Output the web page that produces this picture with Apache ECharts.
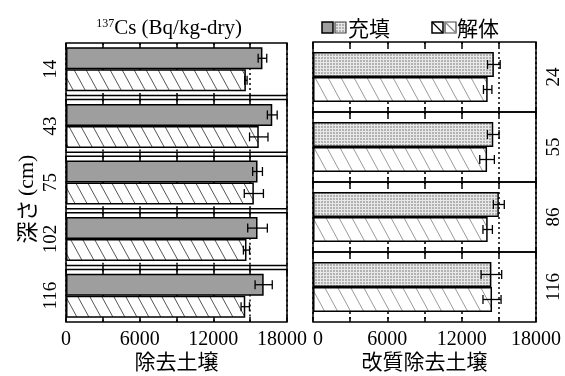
<!DOCTYPE html>
<html><head><meta charset="utf-8">
<script src="https://cdn.jsdelivr.net/npm/echarts@6/dist/echarts.min.js"></script>
<style>html,body{margin:0;padding:0;background:#fff}#c{width:565px;height:376px}</style>
</head><body><div id="c"></div>
<script>
// ---- data ----
const leftDepths = ['14', '43', '75', '102', '116'];
const leftFill = [16000, 16800, 15600, 15600, 16100];
const leftFillErr = [350, 400, 400, 800, 700];
const leftHatch = [14650, 15700, 15300, 14700, 14600];
const leftHatchErr = [100, 750, 780, 250, 340];

const rightDepths = ['24', '55', '86', '116'];
const rightFill = [14600, 14550, 15000, 14400];
const rightFillErr = [510, 470, 440, 830];
const rightHatch = [14100, 14050, 14100, 14450];
const rightHatchErr = [340, 590, 380, 730];

const xMajorTicks = [0, 6000, 12000, 18000];
const panelNames = ['除去土壌', '改質除去土壌'];
const legendNames = ['充填', '解体'];
const yTitleJa = '深さ';
const yTitleUnit = '(cm)';
const titleSup = '137';
const titleMain = 'Cs (Bq/kg-dry)';

// ---- patterns ----
function hatch(color, w, h, lw) {
  const c = document.createElement('canvas'); c.width = w; c.height = h;
  const g = c.getContext('2d'); g.fillStyle = '#fff'; g.fillRect(0, 0, w, h);
  g.strokeStyle = color; g.lineWidth = lw;
  for (const x0 of [-w, 0, w]) { g.beginPath(); g.moveTo(x0, 0); g.lineTo(x0 + w, h); g.stroke(); }
  return c;
}
function dots() {
  const c = document.createElement('canvas'); c.width = 3; c.height = 3;
  const g = c.getContext('2d'); g.fillStyle = '#e8e8e8'; g.fillRect(0, 0, 3, 3);
  g.fillStyle = '#b2b2b2'; g.fillRect(0, 0, 2, 2);
  return c;
}
const patHatchDark = { image: hatch('#555', 12, 22, 1), repeat: 'repeat' };
const patHatchLight = { image: hatch('#9a9a9a', 13, 24, 1), repeat: 'repeat' };
const patDots = { image: dots(), repeat: 'repeat' };
const grayFill = '#9e9e9e';

const SERIF = 'Liberation Serif';
const CJK = 'Noto Sans CJK JP';

const grids = [], xAxes = [], yAxes = [], series = [];

function errRender(barW) {
  return function (params, api) {
    const v = api.value(0), e = api.value(2), k = api.value(3);
    const c = api.coord([v, 0]);
    const y = c[1] + (k === 0 ? -barW / 2 : barW / 2);
    const lo = api.coord([v - e, 0])[0], hi = api.coord([v + e, 0])[0];
    const ch = 4.5;
    const st = { stroke: '#000', lineWidth: 1.3 };
    return { type: 'group', children: [
      { type: 'line', shape: { x1: lo, y1: y, x2: hi, y2: y }, style: st },
      { type: 'line', shape: { x1: lo, y1: y - ch, x2: lo, y2: y + ch }, style: st },
      { type: 'line', shape: { x1: hi, y1: y - ch, x2: hi, y2: y + ch }, style: st }
    ] };
  };
}

function addPanel(depths, fill, fillErr, hatchV, hatchErr, cfg) {
  const n = depths.length;
  const h = (cfg.bottom - cfg.top - (n - 1) * cfg.gap) / n;
  depths.forEach((d, i) => {
    const gi = grids.length;
    const top = cfg.top + i * (h + cfg.gap);
    const last = i === n - 1;
    grids.push({ left: cfg.left, width: cfg.width, top: top, height: h, show: true,
      borderColor: '#000', borderWidth: 1.5, backgroundColor: 'transparent' });
    const tickStyle = { color: '#000', width: 1.5 };
    xAxes.push({ gridIndex: gi, type: 'value', min: 0, max: 18000, interval: 3000, position: 'bottom',
      axisLine: { show: false },
      axisTick: { show: true, inside: last || !cfg.gap, length: (last || !cfg.gap) ? 5 : cfg.gap, lineStyle: tickStyle },
      axisLabel: { show: last, color: '#000', fontFamily: SERIF, fontSize: 20, margin: 8,
        showMinLabel: true, showMaxLabel: true,
        formatter: cfg.labelFmt,
        rich: { r: { fontFamily: SERIF, fontSize: 20, color: '#000', padding: [0, 10, 0, 0] },
                l: { fontFamily: SERIF, fontSize: 20, color: '#000', padding: [0, 0, 0, 10] } } },
      splitLine: { show: true, lineStyle: { color: '#000', type: [2, 3], width: 1.5 } },
      name: last ? cfg.name : '', nameLocation: 'middle', nameGap: 26,
      nameTextStyle: { fontFamily: CJK, fontSize: 21, color: '#000' }
    });
    xAxes.push({ gridIndex: gi, type: 'value', min: 0, max: 18000, interval: 3000, position: 'top',
      axisLine: { show: false },
      axisTick: { show: true, inside: true, length: 5, lineStyle: tickStyle },
      axisLabel: { show: false }, splitLine: { show: false } });
    yAxes.push({ gridIndex: gi, type: 'category', data: [d], position: cfg.side,
      axisLine: { show: false }, axisTick: { show: false }, splitLine: { show: false },
      axisLabel: { rotate: 90, fontSize: 19, fontFamily: SERIF, color: '#000', margin: cfg.margin } });
    const xa = xAxes.length - 2, ya = yAxes.length - 1;
    series.push({ type: 'bar', xAxisIndex: xa, yAxisIndex: ya, data: [fill[i]], barWidth: cfg.barW, barGap: '0%',
      itemStyle: { color: cfg.fillColor, borderColor: '#000', borderWidth: 1.5 }, silent: true });
    series.push({ type: 'bar', xAxisIndex: xa, yAxisIndex: ya, data: [hatchV[i]], barWidth: cfg.barW, barGap: '0%',
      itemStyle: { color: cfg.hatchColor, borderColor: '#000', borderWidth: 1.5 }, silent: true });
    series.push({ type: 'custom', xAxisIndex: xa, yAxisIndex: ya, z: 5, silent: true,
      encode: { x: 0, y: 1 },
      data: [[fill[i], 0, fillErr[i], 0], [hatchV[i], 0, hatchErr[i], 1]],
      renderItem: errRender(cfg.barW) });
  });
}

addPanel(leftDepths, leftFill, leftFillErr, leftHatch, leftHatchErr, {
  left: 66, width: 221, top: 43, bottom: 322, gap: 4, side: 'left', margin: 5, barW: 22,
  fillColor: grayFill, hatchColor: patHatchDark, name: panelNames[0],
  labelFmt: v => (v === 18000 ? '{r|18000}' : (xMajorTicks.includes(v) ? String(v) : ''))
});
addPanel(rightDepths, rightFill, rightFillErr, rightHatch, rightHatchErr, {
  left: 313, width: 223, top: 42, bottom: 322, gap: 0, side: 'right', margin: 9, barW: 25,
  fillColor: patDots, hatchColor: patHatchLight, name: panelNames[1],
  labelFmt: v => (v === 0 ? '{l|0}' : (xMajorTicks.includes(v) ? String(v) : ''))
});

const graphic = [
  { type: 'text', x: 169, y: 28, style: { text: '{s|' + titleSup + '}{t|' + titleMain + '}', align: 'center', verticalAlign: 'middle',
      rich: { s: { fontFamily: SERIF, fontSize: 12, fill: '#000', padding: [0, 0, 9, 0] },
              t: { fontFamily: SERIF, fontSize: 21, fill: '#000' } } } },
  { type: 'text', x: 27, y: 199, rotation: Math.PI / 2,
    style: { text: '{a|' + yTitleJa + '} {b|' + yTitleUnit + '}', align: 'center', verticalAlign: 'middle',
      rich: { a: { fontFamily: CJK, fontSize: 22, fill: '#000' }, b: { fontFamily: SERIF, fontSize: 22, fill: '#000' } } } },
  // legend
  { type: 'rect', shape: { x: 322, y: 22, width: 11, height: 11 }, style: { fill: grayFill, stroke: '#000', lineWidth: 1.5 } },
  { type: 'rect', shape: { x: 335, y: 22, width: 11, height: 11 }, style: { fill: patDots, stroke: '#444', lineWidth: 1.2 } },
  { type: 'text', x: 348, y: 28, style: { text: legendNames[0], fontFamily: CJK, fontSize: 21, fill: '#000', verticalAlign: 'middle' } },
  { type: 'rect', shape: { x: 432, y: 22, width: 11, height: 11 }, style: { fill: '#fff', stroke: '#000', lineWidth: 1.5 } },
  { type: 'line', shape: { x1: 432, y1: 22, x2: 443, y2: 33 }, style: { stroke: '#000', lineWidth: 1.2 } },
  { type: 'rect', shape: { x: 445, y: 22, width: 11, height: 11 }, style: { fill: '#fff', stroke: '#444', lineWidth: 1.2 } },
  { type: 'line', shape: { x1: 445, y1: 22, x2: 456, y2: 33 }, style: { stroke: '#888', lineWidth: 1.2 } },
  { type: 'text', x: 457, y: 28, style: { text: legendNames[1], fontFamily: CJK, fontSize: 21, fill: '#000', verticalAlign: 'middle' } }
];

const chart = echarts.init(document.getElementById('c'), null, { renderer: 'canvas' });
chart.setOption({ animation: false, backgroundColor: '#fff', grid: grids, xAxis: xAxes, yAxis: yAxes, series: series, graphic: graphic });
</script></body></html>
